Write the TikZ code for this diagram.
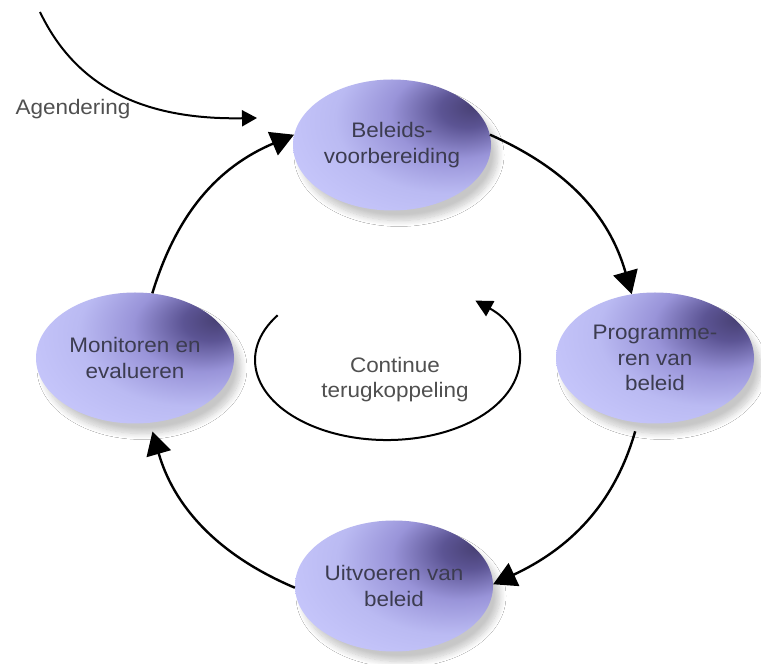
\documentclass[tikz,border=0pt]{standalone}
\usepackage{fontspec}
\setmainfont{Liberation Sans}[FakeStretch=1.07]
\usetikzlibrary{arrows.meta,shapes.geometric,shadows.blur}
\pgfdeclareradialshading{ellshade}{\pgfpoint{21bp}{15bp}}{rgb(0bp)=(0.28,0.25,0.45); rgb(7bp)=(0.36,0.33,0.58); rgb(17bp)=(0.60,0.58,0.85); rgb(28bp)=(0.73,0.73,0.95); rgb(45bp)=(0.80,0.80,1); rgb(80bp)=(0.80,0.80,1)}
\definecolor{txt}{RGB}{60,60,80}
\definecolor{gtxt}{RGB}{80,80,80}
\begin{document}
\begin{tikzpicture}[x=1pt,y=1pt,
  stage/.style={ellipse, minimum width=198pt, minimum height=131pt, inner sep=0pt, shade, shading=ellshade, align=center, text=txt, font=\fontsize{21}{25.5}\selectfont, blur shadow={shadow xshift=7pt, shadow yshift=-10pt, shadow blur radius=6pt, shadow blur steps=10, shadow opacity=22}},
  cyc/.style={line width=2.4pt, -{Triangle[length=23pt,width=25pt]}},
  fb/.style={line width=2pt, -{Triangle[length=17pt,width=17pt]}},
  lab/.style={text=gtxt, font=\fontsize{21}{25.5}\selectfont, align=center}]
\useasboundingbox (0,0) rectangle (761,664);
\fill[white] (0,0) rectangle (761,664);
\node[stage] (nprep) at (392,519) {Beleids-\\voorbereiding};
\node[stage] (nprog) at (655,306) {Programme-\\ren van\\beleid};
\node[stage] (nexec) at (394,78) {Uitvoeren van\\beleid};
\node[stage] (nmon) at (135,306) {Monitoren en\\evalueren};
\draw[cyc] (nprep.6) to[out=-24,in=106] (nprog.110);
\draw[cyc, shorten <=9pt] (nprog.255) to[out=-106,in=25] (nexec.1);
\draw[cyc, shorten >=9pt] (nexec.181) to[out=157,in=-74] (nmon.283);
\draw[cyc] (nmon.75) to[out=73,in=-157] (nprep.174);
\node[lab, anchor=base west] (ag) at (12,549) {Agendering};
\coordinate (agstart) at (40,652);
\coordinate (agend) at (257,546);
\draw[line width=2pt, -{Triangle[length=15pt,width=16pt]}] (agstart) .. controls (75,579) and (140,544) .. (agend);
\node[lab] (fbtext) at (395,284.5) {Continue\\terugkoppeling};
\coordinate (fbstart) at (277.6,348.7);
\draw[fb] (fbstart) arc[start angle=146, end angle=408, x radius=132, y radius=80];
\end{tikzpicture}
\end{document}
